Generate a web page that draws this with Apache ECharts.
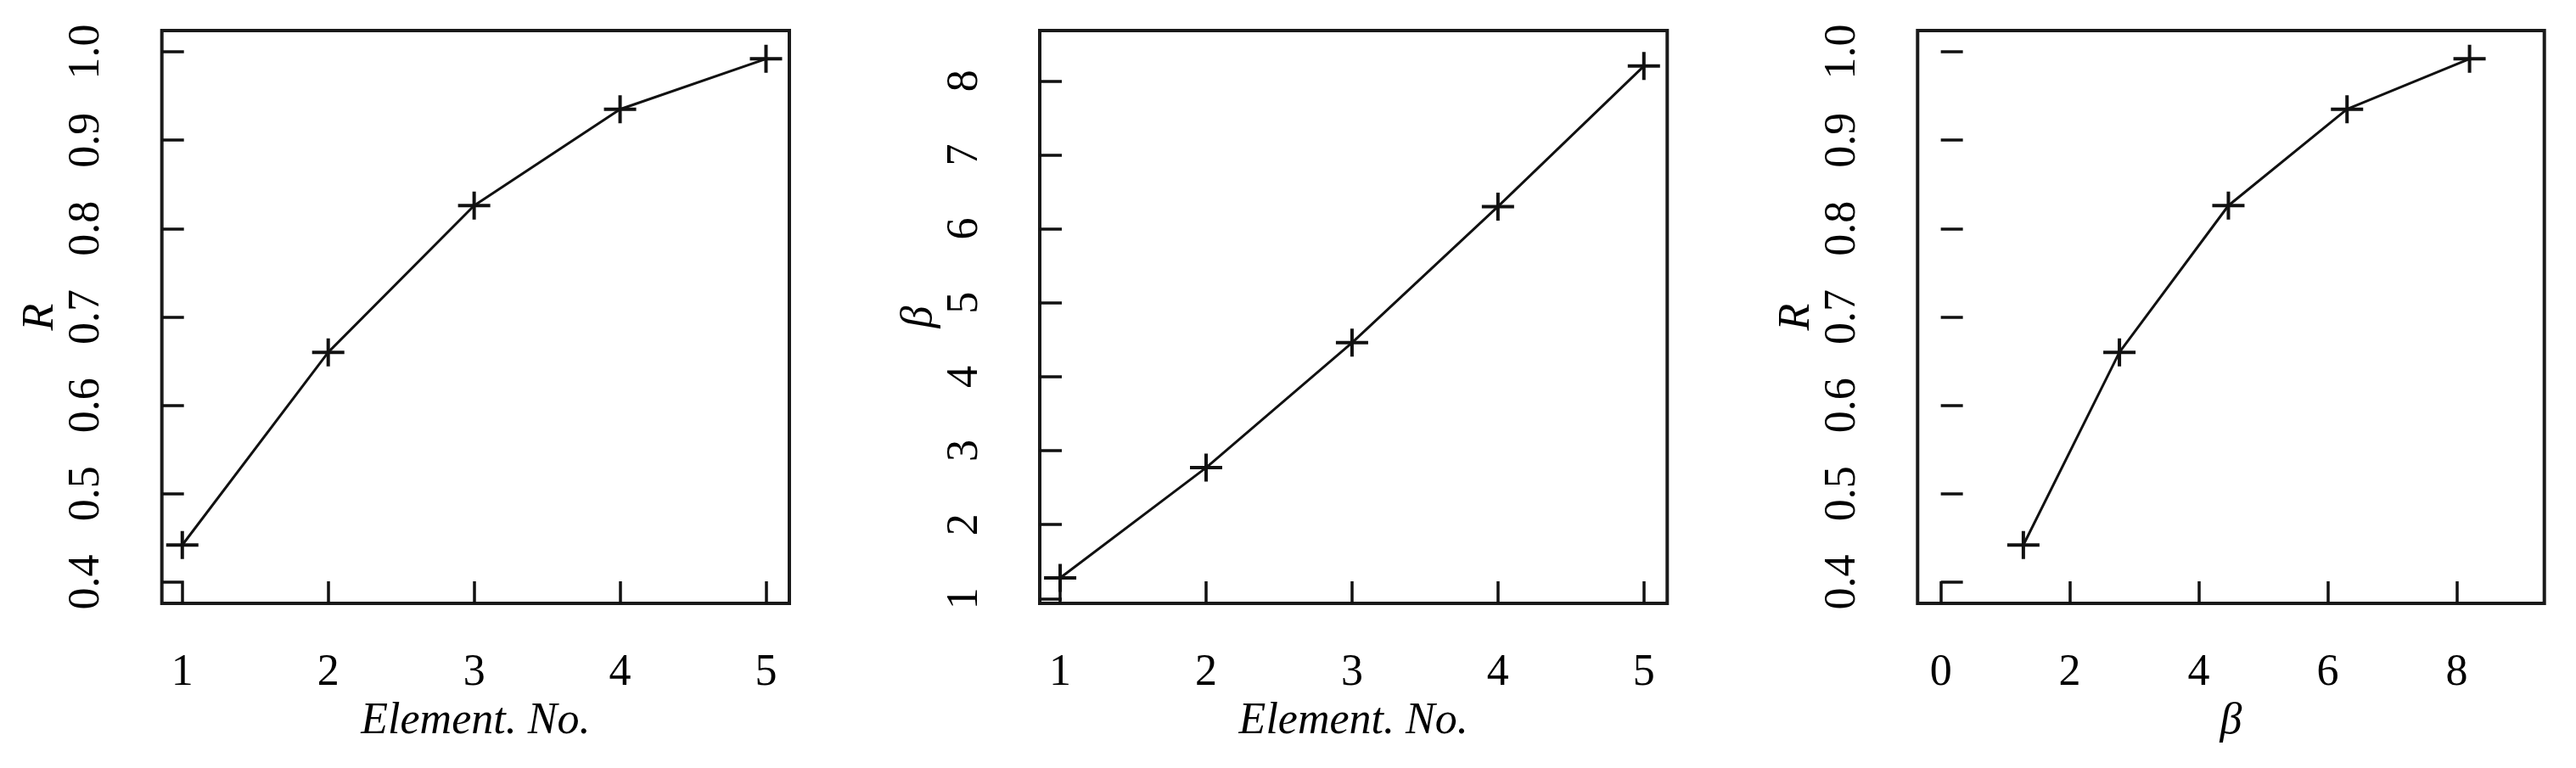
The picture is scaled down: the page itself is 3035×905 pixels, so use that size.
<!DOCTYPE html>
<html>
<head>
<meta charset="utf-8">
<script src="https://cdn.jsdelivr.net/npm/echarts@6/dist/echarts.min.js"></script>
<style>
html,body{margin:0;padding:0;background:#fff;}
#chart{width:3035px;height:905px;}
</style>
</head>
<body>
<div id="chart"></div>
<script>
// ---- data ----
const elementNo = [1, 2, 3, 4, 5];
const R = [0.442, 0.660, 0.826, 0.935, 0.992];
const beta = [1.28, 2.77, 4.46, 6.30, 8.20];

// ---- tick labels ----
const xTicksElement = [1, 2, 3, 4, 5];
const yTicksR = [0.4, 0.5, 0.6, 0.7, 0.8, 0.9, 1.0];
const yTicksBeta = [1, 2, 3, 4, 5, 6, 7, 8];
const xTicksBeta = [0, 2, 4, 6, 8];

const FONT = 'Liberation Serif';
const FS = 52;
const INK = '#111';

const plusPath = 'path://M0,14.5H38V18.5H0Z M17,0H21V33H17Z';

function xAx(gi, min, max, ticks, name, fmt) {
  return {
    type: 'value', gridIndex: gi, min: min, max: max,
    axisLine: { show: false },
    splitLine: { show: false },
    axisTick: { show: true, inside: true, length: 26, customValues: ticks,
      lineStyle: { color: INK, width: 3.5 } },
    axisLabel: { customValues: ticks, margin: 56, fontSize: FS, fontFamily: FONT, color: '#000',
      formatter: fmt },
    name: name, nameLocation: 'middle', nameGap: 110,
    nameTextStyle: { fontStyle: 'italic', fontSize: FS, fontFamily: FONT, color: '#000' }
  };
}
function yAx(gi, min, max, ticks, name, fmt) {
  return {
    type: 'value', gridIndex: gi, min: min, max: max,
    axisLine: { show: false },
    splitLine: { show: false },
    axisTick: { show: true, inside: true, length: 26, customValues: ticks,
      lineStyle: { color: INK, width: 3.5 } },
    axisLabel: { customValues: ticks, rotate: 90, margin: 62, fontSize: FS, fontFamily: FONT, color: '#000',
      formatter: fmt },
    name: name, nameLocation: 'middle', nameGap: 116, nameRotate: 90,
    nameTextStyle: { fontStyle: 'italic', fontSize: FS, fontFamily: FONT, color: '#000' }
  };
}
const fmtInt = v => String(Math.round(v));
const fmt1 = v => v.toFixed(1);

function grid(left, width) {
  return { left: left, top: 36, width: width, height: 675, show: true,
    borderColor: '#1a1a1a', borderWidth: 4, backgroundColor: 'transparent',
    containLabel: false, outerBoundsMode: 'none' };
}
function series(xi, xs, ys) {
  return {
    type: 'line', xAxisIndex: xi, yAxisIndex: xi,
    data: xs.map((x, i) => [x, ys[i]]),
    symbol: plusPath, symbolSize: [38, 33], showAllSymbol: true,
    lineStyle: { color: INK, width: 3 },
    itemStyle: { color: INK },
    emphasis: { disabled: true },
    animation: false, z: 3
  };
}

const chart = echarts.init(document.getElementById('chart'), null, { renderer: 'canvas' });
chart.setOption({
  animation: false,
  backgroundColor: '#fff',
  grid: [grid(190.7, 739.3), grid(1225, 739.3), grid(2259.3, 738.4)],
  xAxis: [
    xAx(0, 0.86, 5.16, xTicksElement, 'Element. No.', fmtInt),
    xAx(1, 0.86, 5.16, xTicksElement, 'Element. No.', fmtInt),
    xAx(2, -0.36, 9.36, xTicksBeta, 'β', fmtInt)
  ],
  yAxis: [
    yAx(0, 0.376, 1.024, yTicksR, 'R', fmt1),
    yAx(1, 0.935, 8.68, yTicksBeta, 'β', fmtInt),
    yAx(2, 0.376, 1.024, yTicksR, 'R', fmt1)
  ],
  series: [
    series(0, elementNo, R),
    series(1, elementNo, beta),
    series(2, beta, R)
  ]
});
</script>
</body>
</html>
